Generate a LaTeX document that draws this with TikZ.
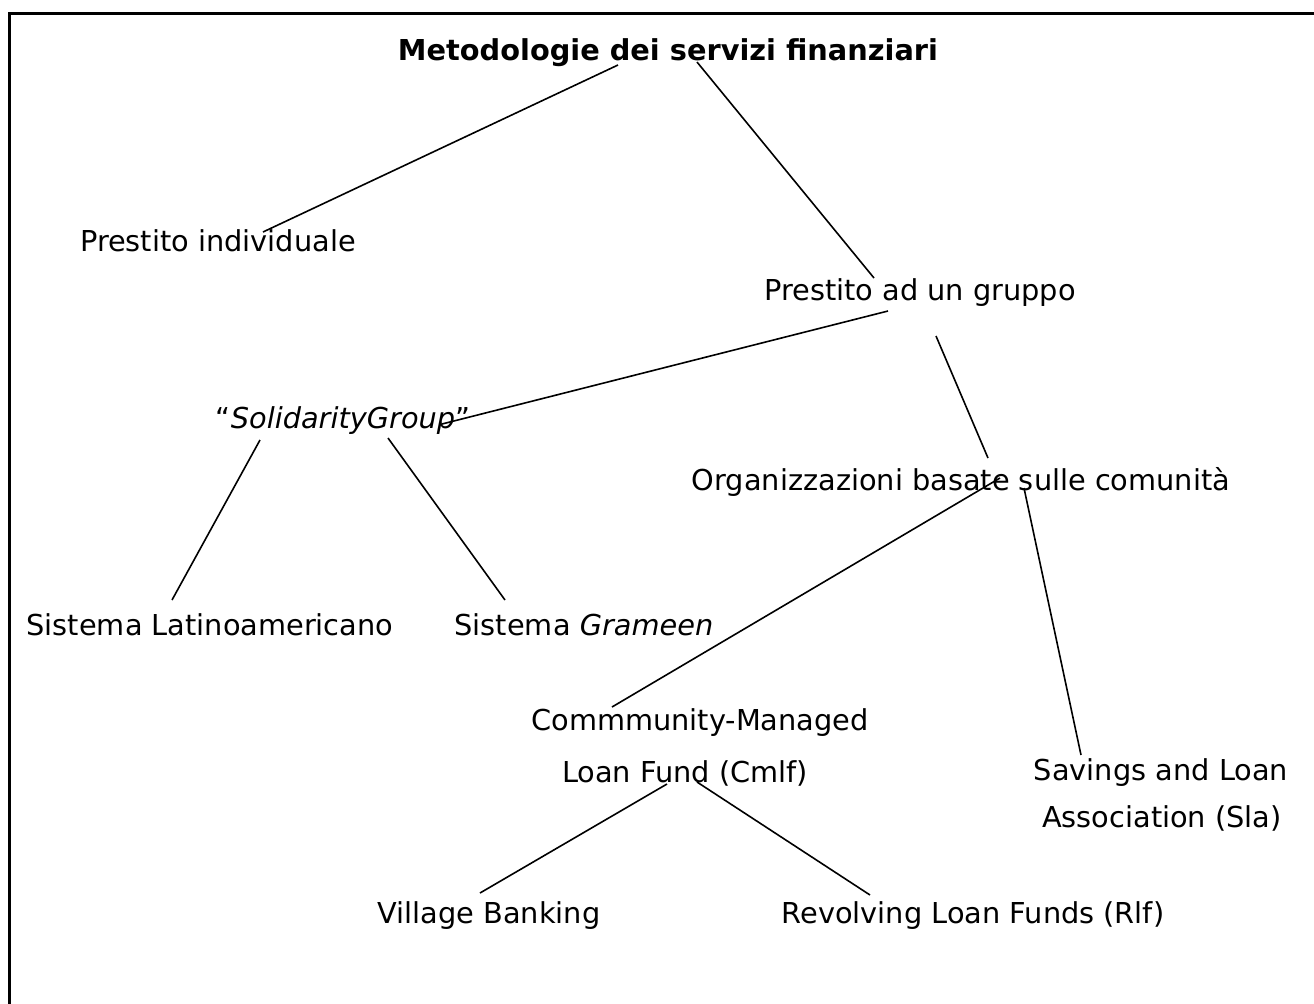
\documentclass[tikz,border=0pt]{standalone}
\usepackage{fontspec}
\setmainfont{DejaVu Sans}
\usetikzlibrary{calc}

\tikzset{
    item/.style={anchor=base, inner sep=0pt, font=\fontsize{14.4}{17}\selectfont},
    head/.style={item, font=\fontsize{14.4}{17}\selectfont\bfseries},
    link/.style={line width=0.8pt},
    frame/.style={line width=1.5pt}
}

\begin{document}
\begin{tikzpicture}[x=0.5pt, y=-0.5pt]
    \useasboundingbox (0,0) rectangle (1314,1003);

    % Frame
    \draw[frame] (9.5,1010) |- (1320,13.5);

    % Levels
    \node[head] (title) at (668,60) {Metodologie dei servizi finanziari};
    \node[item] (pind) at (218,251) {Prestito individuale};
    \node[item] (pgrp) at (920,300) {Prestito ad un gruppo};
    \node[item] (solid) at (343,428) {``\textit{SolidarityGroup}''};
    \node[item] (org) at (961,490) {Organizzazioni basate sulle comunità};
    \node[item] (latino) at (210,635) {Sistema Latinoamericano};
    \node[item] (grameen) at (584,635) {Sistema \textit{Grameen}};
    \node[item] (cmlfa) at (700,730) {Commmunity-Managed};
    \node[item] (cmlfb) at (685,782) {Loan Fund (Cmlf)};
    \node[item] (slaa) at (1161,780) {Savings and Loan};
    \node[item] (slab) at (1162,827) {Association (Sla)};
    \node[item] (village) at (489,923) {Village Banking};
    \node[item] (rlf) at (973,923) {Revolving Loan Funds (Rlf)};

    % Links
    \draw[link] ($(title.base)+(-50,5)$) -- ($(pind.base)+(45,-19)$);
    \draw[link] ($(title.base)+(29,2)$) -- ($(pgrp.base)+(-46,-22)$);
    \draw[link] ($(pgrp.base)+(-32,11)$) -- ($(solid.base)+(99,-4)$);
    \draw[link] ($(pgrp.base)+(16,36)$) -- ($(org.base)+(27,-32)$);
    \draw[link] ($(solid.base)+(-83,12)$) -- ($(latino.base)+(-38,-35)$);
    \draw[link] ($(solid.base)+(45,10)$) -- ($(grameen.base)+(-79,-35)$);
    \draw[link] ($(org.base)+(39,-12)$) -- ($(cmlfa.base)+(-88,-23)$);
    \draw[link] ($(org.base)+(63,-2)$) -- ($(slaa.base)+(-80,-25)$);
    \draw[link] ($(cmlfb.base)+(-18,2)$) -- ($(village.base)+(-9,-30)$);
    \draw[link] ($(cmlfb.base)+(12,0)$) -- ($(rlf.base)+(-103,-28)$);
\end{tikzpicture}
\end{document}
